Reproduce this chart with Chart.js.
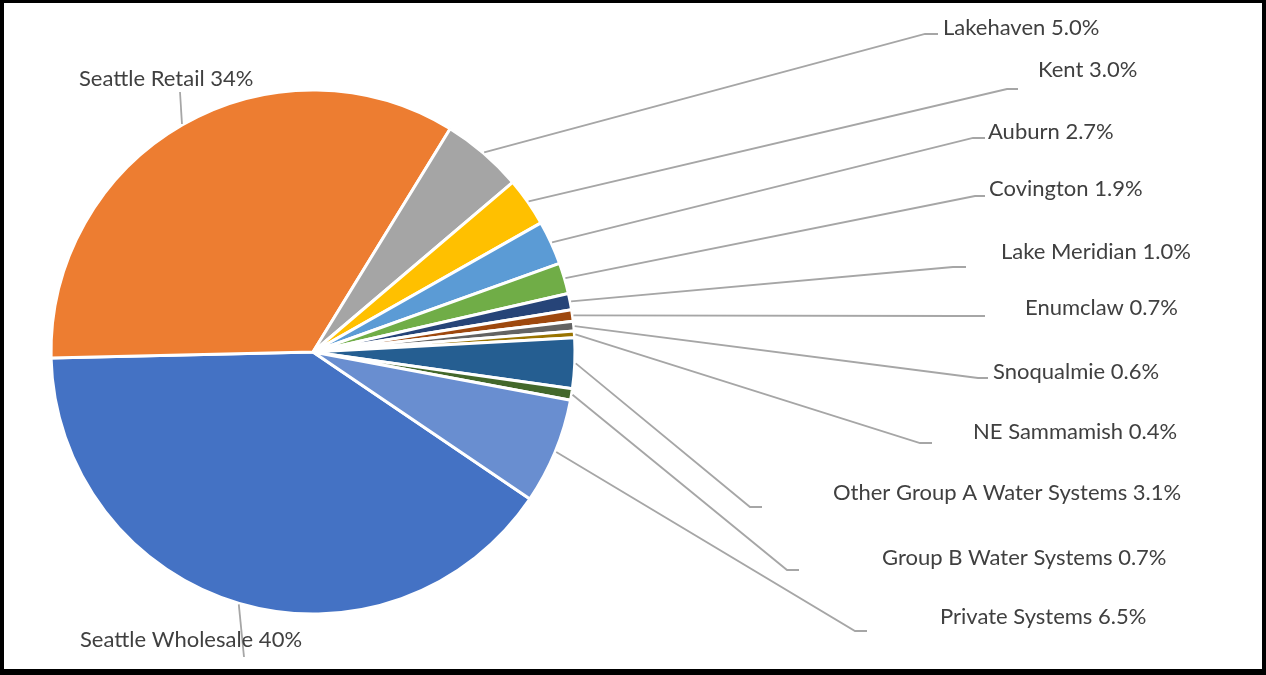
<!DOCTYPE html>
<html>
<head>
<meta charset="utf-8">
<script src="https://cdn.jsdelivr.net/npm/chart.js@4"></script>
<style>
  body { margin: 0; background: #fff; }
  canvas { display: block; }
</style>
</head>
<body>
<canvas id="myChart" width="1266" height="675"></canvas>
<script>
// donnees du camembert (ordre Excel, sens horaire)
const labels = ['Seattle Wholesale', 'Seattle Retail', 'Lakehaven', 'Kent', 'Auburn', 'Covington',
  'Lake Meridian', 'Enumclaw', 'Snoqualmie', 'NE Sammamish', 'Other Group A Water Systems',
  'Group B Water Systems', 'Private Systems'];
const shares = [40, 34, 5.0, 3.0, 2.7, 1.9, 1.0, 0.7, 0.6, 0.4, 3.1, 0.7, 6.5];
const shareText = ['40%', '34%', '5.0%', '3.0%', '2.7%', '1.9%', '1.0%', '0.7%', '0.6%', '0.4%', '3.1%', '0.7%', '6.5%'];
const colors = ['#4472C4', '#ED7D31', '#A5A5A5', '#FFC000', '#5B9BD5', '#70AD47',
  '#264478', '#9E480E', '#636363', '#997300', '#255E91', '#43682B', '#698ED0'];

// placement des etiquettes : coude de la ligne, fin du trait horizontal, texte
const labelLayout = [
  { ex: 244, ey: 657, hx: null, tx: 80, ty: 640 },
  { ex: 180, ey: 92, hx: null, tx: 79, ty: 79 },
  { ex: 925, ey: 34, hx: 938, tx: 943, ty: 28 },
  { ex: 1007, ey: 89, hx: 1018, tx: 1038, ty: 70 },
  { ex: 973, ey: 138, hx: 985, tx: 988, ty: 132 },
  { ex: 975, ey: 196, hx: 985, tx: 989, ty: 189 },
  { ex: 953, ey: 267, hx: 966, tx: 1001, ty: 252 },
  { ex: 960, ey: 316, hx: 985, tx: 1025, ty: 308 },
  { ex: 978, ey: 378, hx: 988, tx: 993, ty: 372 },
  { ex: 920, ey: 443, hx: 932, tx: 973, ty: 432 },
  { ex: 750, ey: 507, hx: 762, tx: 833, ty: 493 },
  { ex: 787, ey: 570, hx: 799, tx: 882, ty: 558 },
  { ex: 855, ey: 631, hx: 867, tx: 940, ty: 617 }
];

// cadre noir + fond blanc
const framePlugin = {
  id: 'frame',
  beforeDraw(chart) {
    const ctx = chart.ctx;
    ctx.save();
    ctx.fillStyle = '#fff';
    ctx.fillRect(0, 0, chart.width, chart.height);
    ctx.restore();
  },
  afterDraw(chart) {
    const ctx = chart.ctx;
    ctx.save();
    ctx.fillStyle = '#000';
    ctx.fillRect(0, 0, chart.width, 3);
    ctx.fillRect(0, 0, 4, chart.height);
    ctx.fillRect(chart.width - 4, 0, 4, chart.height);
    ctx.fillRect(0, chart.height - 6, chart.width, 6);
    ctx.restore();
  }
};

// lignes de rappel et etiquettes
const leaderPlugin = {
  id: 'leaders',
  afterDatasetsDraw(chart) {
    const ctx = chart.ctx;
    const arcs = chart.getDatasetMeta(0).data;
    ctx.save();
    ctx.strokeStyle = '#A6A6A6';
    ctx.lineWidth = 1.8;
    arcs.forEach((arc, i) => {
      const p = labelLayout[i];
      const mid = (arc.startAngle + arc.endAngle) / 2;
      const r = arc.outerRadius + 1;
      const sx = arc.x + Math.cos(mid) * r;
      const sy = arc.y + Math.sin(mid) * r;
      ctx.beginPath();
      ctx.moveTo(sx, sy);
      ctx.lineTo(p.ex, p.ey);
      if (p.hx !== null) ctx.lineTo(p.hx, p.ey);
      ctx.stroke();
    });
    ctx.fillStyle = '#404040';
    ctx.font = '22px Lato';
    ctx.textBaseline = 'middle';
    ctx.textAlign = 'left';
    labels.forEach((lab, i) => {
      const p = labelLayout[i];
      ctx.fillText(lab + ' ' + shareText[i], p.tx, p.ty);
    });
    ctx.restore();
  }
};

const data = {
  labels: labels,
  datasets: [{
    data: shares,
    backgroundColor: colors,
    borderColor: '#fff',
    borderWidth: 3
  }]
};

const config = {
  type: 'pie',
  data: data,
  options: {
    responsive: false,
    animation: false,
    devicePixelRatio: 1,
    rotation: 124.1,
    radius: 262,
    layout: { padding: { left: 51, right: 691, top: 90, bottom: 61 } },
    plugins: {
      legend: { display: false },
      tooltip: { enabled: false }
    }
  },
  plugins: [framePlugin, leaderPlugin]
};

const myChart = new Chart(document.getElementById('myChart'), config);
</script>
</body>
</html>
